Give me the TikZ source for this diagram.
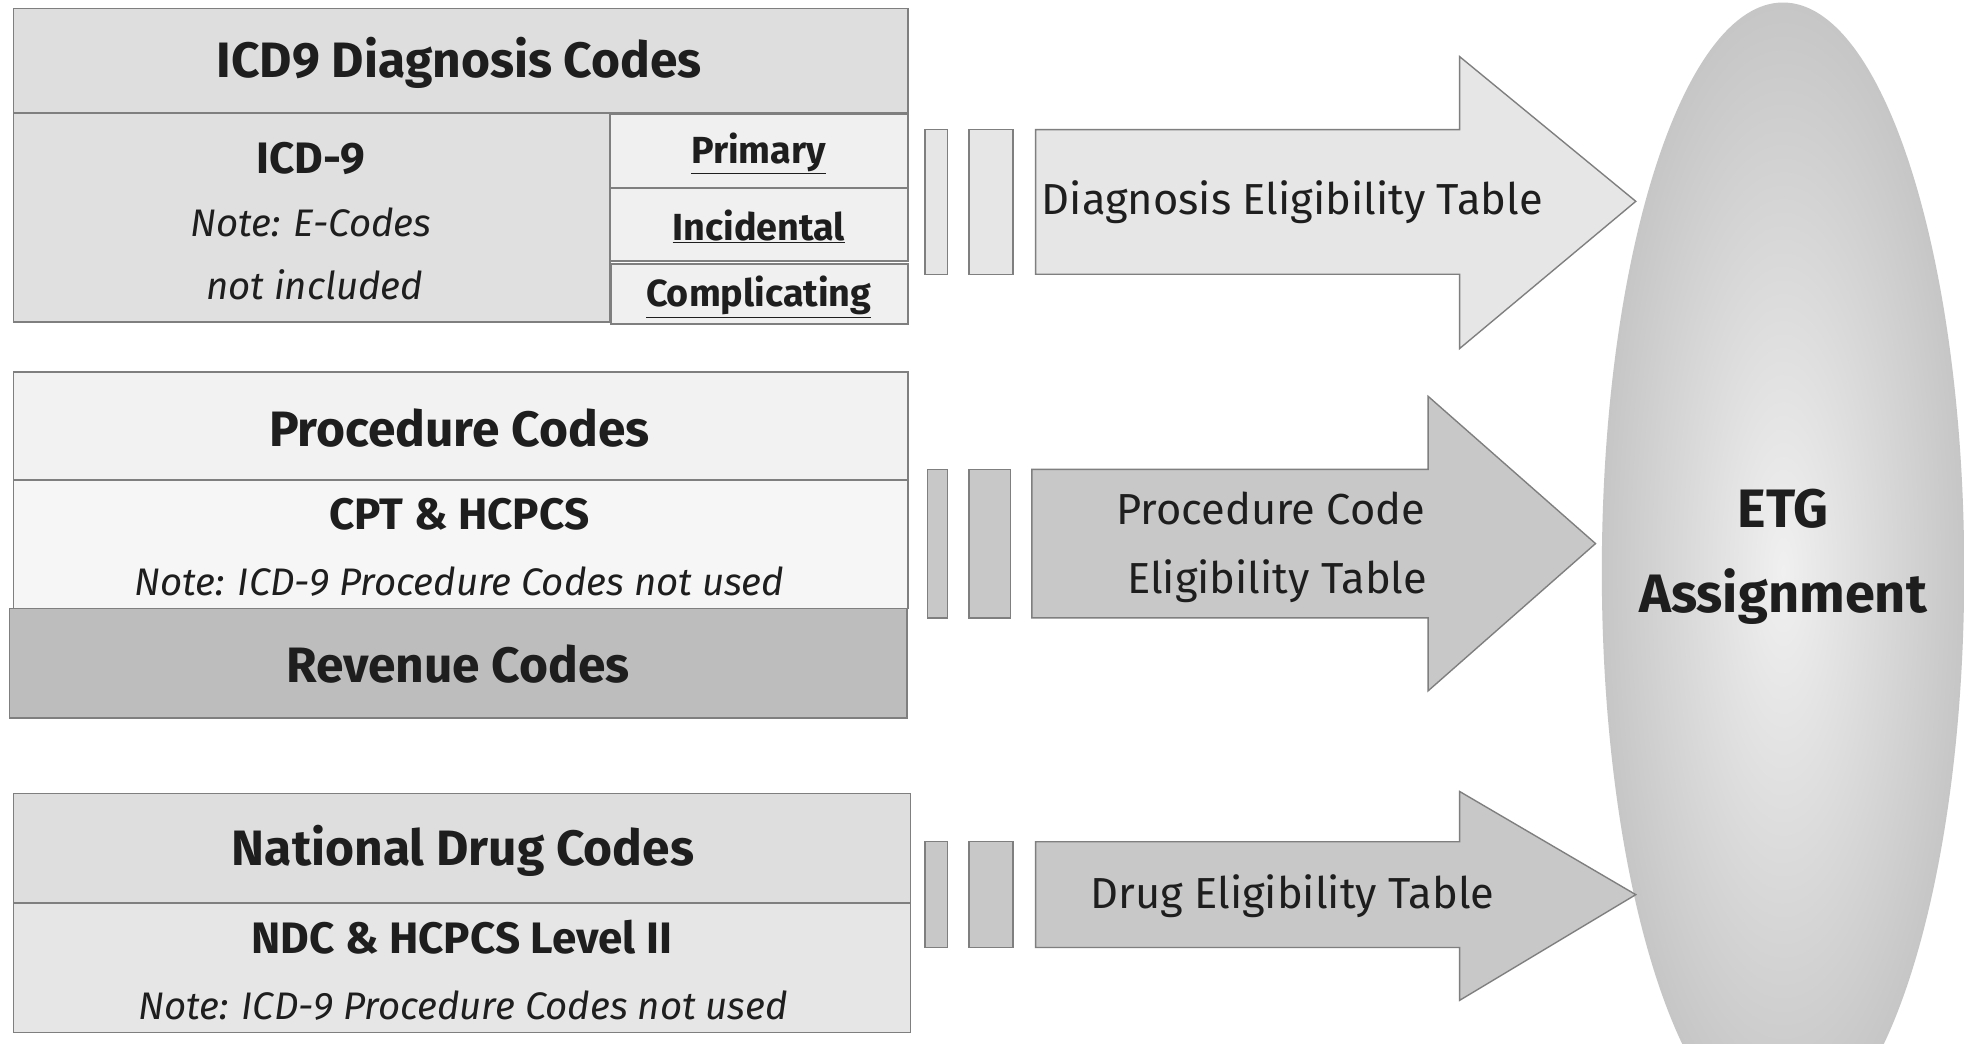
\documentclass[tikz,border=0pt]{standalone}
\usepackage{fontspec}
\setmainfont{Fira Sans}
\usetikzlibrary{shapes.geometric}
\definecolor{bd}{HTML}{7F7F7F}
\definecolor{ink}{HTML}{1E1E1E}
\definecolor{hdr}{HTML}{DEDEDE}
\definecolor{cella}{HTML}{E0E0E0}
\definecolor{cellb}{HTML}{F0F0F0}
\definecolor{prochdr}{HTML}{F2F2F2}
\definecolor{proclow}{HTML}{F6F6F6}
\definecolor{rev}{HTML}{BDBDBD}
\definecolor{ndclow}{HTML}{E6E6E6}
\definecolor{arrlight}{HTML}{E6E6E6}
\definecolor{arrdark}{HTML}{C8C8C8}
\definecolor{etgin}{HTML}{F0F0F0}
\definecolor{etgout}{HTML}{C6C6C6}
\begin{document}
\begin{tikzpicture}[x=1pt,y=-1pt,
  box/.style={draw=bd, line width=1.3pt, rectangle, inner sep=0pt, anchor=north west},
  blockarrow/.style={draw=bd, line width=1.1pt},
  bar/.style={draw=bd, line width=1.1pt},
  txt/.style={text=ink, inner sep=0pt, anchor=center},
  hdrtxt/.style={txt, font=\fontsize{39.5}{41}\selectfont\bfseries},
  subtxt/.style={txt, font=\fontsize{35}{37}\selectfont\bfseries},
  notetxt/.style={txt, font=\fontsize{30.5}{32}\selectfont\itshape},
  tagtxt/.style={txt, font=\fontsize{30}{32}\selectfont\bfseries},
  arrtxt/.style={txt, font=\fontsize{34.5}{36}\selectfont},
  etgtxt/.style={txt, font=\fontsize{43}{45}\selectfont\bfseries}]
\useasboundingbox (0,0) rectangle (1568,829);
\clip (0,0) rectangle (1568,829);
\fill[white] (0,0) rectangle (1568,829);

% ETG ellipse
\node[ellipse, inner sep=0pt, minimum width=288pt, minimum height=904pt,
      inner color=etgin, outer color=etgout] (etg) at (1417,454) {};
\node[etgtxt] (etg1) at (1417,404) {ETG};
\node[etgtxt] (etg2) at (1417,474) {Assignment};

% ICD9 block
\node[box, fill=hdr, minimum width=711pt, minimum height=83pt] (icdhdr) at (10,6) {};
\node[hdrtxt] (icdhdrt) at (365,50) {ICD9 Diagnosis Codes};
\node[box, fill=cella, minimum width=474pt, minimum height=166pt] (icdl) at (10,89) {};
\node[subtxt] (icd9) at (247,126) {ICD-9};
\node[notetxt] (icdn1) at (247,177) {Note: E-Codes};
\node[notetxt] (icdn2) at (250,226) {not included};
\node[box, fill=cellb, minimum width=237pt, minimum height=59pt] (prim) at (484,90) {};
\node[tagtxt] (primt) at (603,122) {\underline{Primary}};
\node[box, fill=cellb, minimum width=237pt, minimum height=58pt] (inci) at (484,149) {};
\node[tagtxt] (incit) at (603,180) {\underline{Incidental}};
\node[box, fill=cellb, minimum width=236pt, minimum height=48pt] (comp) at (485,209) {};
\node[tagtxt] (compt) at (603,236) {\underline{Complicating}};

% Procedure block
\node[box, fill=prochdr, minimum width=711pt, minimum height=86pt] (prochdr) at (10,295) {};
\node[hdrtxt] (prochdrt) at (365,340) {Procedure Codes};
\node[box, fill=proclow, minimum width=711pt, minimum height=102pt] (proclow) at (10,381) {};
\node[subtxt] (cpt) at (365,409) {CPT \& HCPCS};
\node[notetxt] (procn) at (365,462) {Note: ICD-9 Procedure Codes not used};
\node[box, fill=rev, minimum width=713pt, minimum height=87pt] (rev) at (7,483) {};
\node[hdrtxt] (revt) at (364,528) {Revenue Codes};

% NDC block
\node[box, fill=hdr, minimum width=713pt, minimum height=87pt] (ndchdr) at (10,630) {};
\node[hdrtxt] (ndchdrt) at (368,676) {National Drug Codes};
\node[box, fill=ndclow, minimum width=713pt, minimum height=103pt] (ndclow) at (10,717) {};
\node[subtxt] (ndc) at (367,745) {NDC \& HCPCS Level II};
\node[notetxt] (ndcn) at (368,799) {Note: ICD-9 Procedure Codes not used};

% Bars and arrows: diagnosis
\draw[bar, fill=arrlight] (735,103) rectangle (753,218);
\draw[bar, fill=arrlight] (770,103) rectangle (805,218);
\draw[blockarrow, fill=arrlight] (823,103) -- (1160,103) -- (1160,45) -- (1300,160)
   -- (1160,277) -- (1160,218) -- (823,218) -- cycle;
\node[arrtxt] (diagt) at (1027,161) {Diagnosis Eligibility Table};

% Bars and arrows: procedure
\draw[bar, fill=arrdark] (737,373) rectangle (753,491);
\draw[bar, fill=arrdark] (770,373) rectangle (803,491);
\draw[blockarrow, fill=arrdark] (820,373) -- (1135,373) -- (1135,315) -- (1268,432)
   -- (1135,549) -- (1135,491) -- (820,491) -- cycle;
\node[arrtxt] (proct1) at (1010,404) {Procedure Code};
\node[arrtxt] (proct2) at (1015,462) {Eligibility Table};

% Bars and arrows: drug
\draw[bar, fill=arrdark] (735,669) rectangle (753,753);
\draw[bar, fill=arrdark] (770,669) rectangle (805,753);
\draw[blockarrow, fill=arrdark] (823,669) -- (1160,669) -- (1160,629) -- (1300,711)
   -- (1160,795) -- (1160,753) -- (823,753) -- cycle;
\node[arrtxt] (drugt) at (1027,712) {Drug Eligibility Table};
\end{tikzpicture}
\end{document}
